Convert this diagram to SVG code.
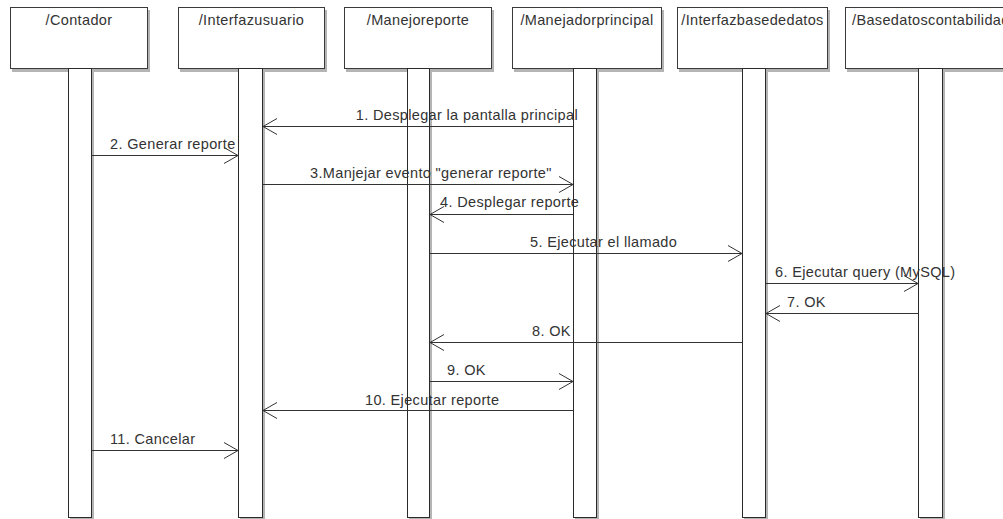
<svg xmlns="http://www.w3.org/2000/svg" width="1003" height="519" viewBox="0 0 1003 519">
<defs>
<style>
.box{fill:#fff;stroke:#3a3a3a;stroke-width:1}
.shadow{fill:#b4b4b4}
.bar{fill:#fff;stroke:#2a2a2a;stroke-width:1}
.t{font-family:"Liberation Sans",Arial,sans-serif;font-size:14.5px;letter-spacing:0.35px;fill:#333}
.msg{stroke:#333;stroke-width:1;fill:none}
</style>
<marker id="open" markerWidth="16" markerHeight="18" refX="15" refY="9" orient="auto" markerUnits="userSpaceOnUse">
<path d="M1,1 L15,9 L1,17" fill="none" stroke="#333" stroke-width="1"/>
</marker>
</defs>
<rect width="1003" height="519" fill="#fff"/>
<g id="contador">
<rect class="shadow" x="12" y="10" width="138" height="62"/>
<rect class="box" x="10.5" y="7.5" width="137" height="61"/>
<rect class="shadow" x="70" y="70" width="24" height="449"/>
<rect class="bar" x="68.5" y="68.5" width="23" height="449"/>
<text class="t" x="79" y="25" text-anchor="middle">/Contador</text>
</g>
<g id="interfazusuario">
<rect class="shadow" x="180" y="10" width="147" height="62"/>
<rect class="box" x="178.5" y="7.5" width="146" height="61"/>
<rect class="shadow" x="240" y="70" width="25" height="449"/>
<rect class="bar" x="238.5" y="68.5" width="24" height="449"/>
<text class="t" x="251.5" y="25" text-anchor="middle">/Interfazusuario</text>
</g>
<g id="manejoreporte">
<rect class="shadow" x="346" y="10" width="148" height="62"/>
<rect class="box" x="344.5" y="7.5" width="147" height="61"/>
<rect class="shadow" x="409" y="70" width="23" height="449"/>
<rect class="bar" x="407.5" y="68.5" width="22" height="449"/>
<text class="t" x="418" y="25" text-anchor="middle">/Manejoreporte</text>
</g>
<g id="manejadorprincipal">
<rect class="shadow" x="514" y="10" width="150" height="62"/>
<rect class="box" x="512.5" y="7.5" width="149" height="61"/>
<rect class="shadow" x="575" y="70" width="24" height="449"/>
<rect class="bar" x="573.5" y="68.5" width="23" height="449"/>
<text class="t" x="587" y="25" text-anchor="middle">/Manejadorprincipal</text>
</g>
<g id="interfazbasededatos">
<rect class="shadow" x="679" y="10" width="151" height="62"/>
<rect class="box" x="677.5" y="7.5" width="150" height="61"/>
<rect class="shadow" x="744" y="70" width="24" height="449"/>
<rect class="bar" x="742.5" y="68.5" width="23" height="449"/>
<text class="t" x="752.5" y="25" text-anchor="middle">/Interfazbasededatos</text>
</g>
<g id="basedatoscontabilidad">
<rect class="shadow" x="847" y="10" width="180" height="62"/>
<rect class="box" x="845.5" y="7.5" width="178" height="61"/>
<rect class="shadow" x="920" y="70" width="25" height="449"/>
<rect class="bar" x="918.5" y="68.5" width="24" height="449"/>
<text class="t" x="852" y="25">/Basedatoscontabilidad</text>
</g>
<g id="connectors">
<line class="msg" x1="573" y1="126.5" x2="263" y2="126.5" marker-end="url(#open)"/>
<text class="t" x="578" y="120" text-anchor="end">1. Desplegar la pantalla principal</text>
<line class="msg" x1="92" y1="155.5" x2="238" y2="155.5" marker-end="url(#open)"/>
<text class="t" x="110" y="149">2. Generar reporte</text>
<line class="msg" x1="263" y1="184.5" x2="573" y2="184.5" marker-end="url(#open)"/>
<text class="t" x="310" y="178">3.Manjejar evento "generar reporte"</text>
<line class="msg" x1="573" y1="214.5" x2="430" y2="214.5" marker-end="url(#open)"/>
<text class="t" x="440" y="207">4. Desplegar reporte</text>
<line class="msg" x1="430" y1="253.5" x2="742" y2="253.5" marker-end="url(#open)"/>
<text class="t" x="530" y="247">5. Ejecutar el llamado</text>
<line class="msg" x1="766" y1="283.5" x2="918" y2="283.5" marker-end="url(#open)"/>
<text class="t" x="775" y="277">6. Ejecutar query (MySQL)</text>
<line class="msg" x1="918" y1="313.5" x2="766" y2="313.5" marker-end="url(#open)"/>
<text class="t" x="787" y="307">7. OK</text>
<line class="msg" x1="742" y1="342.5" x2="430" y2="342.5" marker-end="url(#open)"/>
<text class="t" x="532" y="336">8. OK</text>
<line class="msg" x1="430" y1="381.5" x2="573" y2="381.5" marker-end="url(#open)"/>
<text class="t" x="447" y="375">9. OK</text>
<line class="msg" x1="573" y1="410.5" x2="263" y2="410.5" marker-end="url(#open)"/>
<text class="t" x="365" y="405">10. Ejecutar reporte</text>
<line class="msg" x1="92" y1="450.5" x2="238" y2="450.5" marker-end="url(#open)"/>
<text class="t" x="110" y="444">11. Cancelar</text>
</g>
</svg>
